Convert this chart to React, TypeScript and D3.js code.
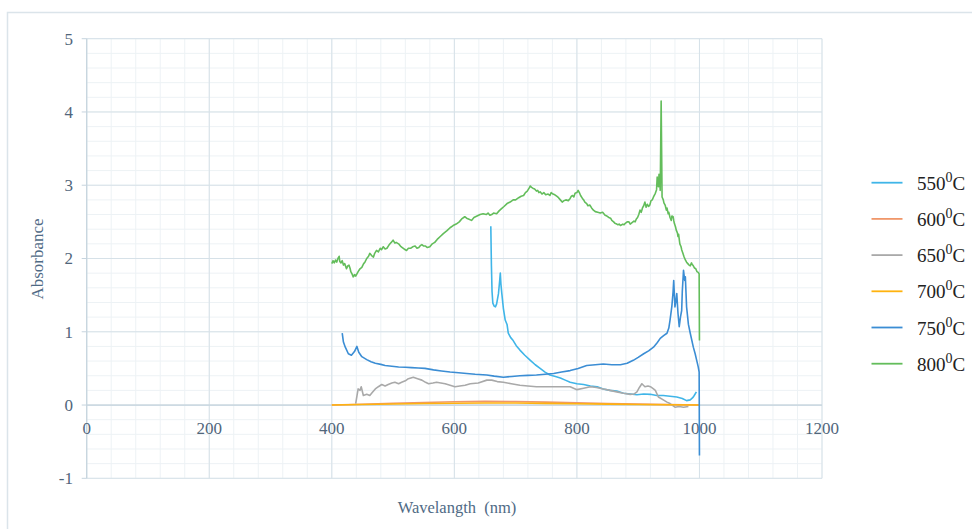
import React from "react";
import * as d3 from "d3";

type Pt = [number, number];

const xTicks = [0, 200, 400, 600, 800, 1000, 1200];
const yTicks = [-1, 0, 1, 2, 3, 4, 5];
const seriesNames = ["550", "600", "650", "700", "750", "800"];
const seriesColors = ["#3fb5e8", "#f0976a", "#a9a9a9", "#ffb30f", "#3b8dd4", "#63bd5b"];

const s550: Pt[] = [[659.5,2.44],[660.5,1.9],[661.5,1.55],[662.8,1.39],[665,1.35],[667,1.34],[669,1.38],[672,1.52],[674,1.7],[675,1.8],[676,1.65],[677.5,1.52],[680,1.32],[683,1.16],[686,1.1],[688,0.98],[692,0.92],[696,0.88],[701,0.81],[707,0.75],[715,0.68],[724,0.61],[732,0.55],[740,0.5],[748,0.45],[756,0.41],[765,0.39],[773,0.37],[781,0.34],[789,0.31],[800,0.29],[811,0.28],[822,0.26],[833,0.25],[843,0.22],[854,0.2],[865,0.19],[876,0.16],[887,0.15],[898,0.14],[909,0.15],[920,0.146],[930,0.13],[941,0.13],[952,0.12],[963,0.11],[972,0.09],[979,0.06],[985,0.07],[989,0.1],[991.5,0.13],[995,0.18]];
const s600: Pt[] = [[400,0],[450,0.01],[500,0.025],[550,0.035],[600,0.045],[650,0.05],[700,0.048],[750,0.04],[800,0.03],[850,0.02],[900,0.012],[950,0.006],[1000,0]];
const s650: Pt[] = [[439,0.02],[441,0.12],[443,0.22],[446,0.2],[448,0.25],[451.5,0.13],[457,0.146],[462,0.13],[466,0.17],[471,0.22],[476,0.25],[481.5,0.28],[487,0.26],[492,0.28],[498,0.3],[503,0.31],[509,0.29],[514,0.31],[520,0.33],[525,0.36],[533,0.38],[540,0.36],[547,0.34],[553,0.31],[558,0.29],[565,0.3],[571,0.31],[578,0.3],[585,0.29],[593,0.27],[601,0.25],[609,0.26],[617.5,0.27],[626,0.29],[639,0.3],[653,0.34],[661,0.34],[670,0.32],[680,0.31],[693,0.29],[707,0.27],[720,0.26],[734,0.25],[748,0.25],[762,0.25],[775,0.25],[789,0.25],[800,0.21],[811,0.23],[822,0.25],[832,0.24],[843,0.22],[854,0.2],[865,0.18],[876,0.16],[887,0.146],[893,0.15],[898,0.18],[902,0.24],[906,0.29],[911,0.25],[916,0.26],[920,0.25],[925,0.22],[928,0.2],[933,0.11],[941,0.07],[947,0.04],[952,0.02],[960,-0.03],[967,-0.02],[974,-0.03],[982,-0.02]];
const s700: Pt[] = [[400,0],[450,0.008],[500,0.015],[550,0.02],[600,0.025],[650,0.028],[700,0.027],[750,0.022],[800,0.017],[850,0.012],[900,0.008],[950,0.004],[1000,0]];
const s750: Pt[] = [[417,0.98],[419,0.86],[422,0.79],[427,0.7],[432,0.68],[435,0.71],[437,0.73],[441,0.8],[444,0.72],[449,0.66],[457,0.62],[464,0.59],[471,0.57],[480,0.555],[487,0.54],[498,0.53],[509,0.52],[520,0.515],[530,0.51],[541,0.505],[552,0.5],[566,0.48],[579,0.465],[593,0.45],[607,0.44],[620,0.43],[634,0.42],[653,0.41],[665,0.395],[680,0.38],[694,0.39],[707,0.4],[720,0.405],[734,0.41],[748,0.42],[762,0.43],[775,0.45],[789,0.47],[802,0.5],[816,0.54],[830,0.55],[843,0.56],[857,0.55],[871,0.55],[882,0.57],[892,0.61],[900,0.65],[909,0.7],[917,0.74],[925,0.79],[931,0.85],[936,0.91],[942,0.95],[947,0.98],[950,1.05],[952,1.16],[955,1.35],[957,1.55],[958,1.7],[960,1.34],[962,1.45],[963,1.52],[965,1.25],[967,1.07],[969,1.2],[971,1.29],[972,1.55],[974,1.84],[976,1.7],[977,1.75],[979,1.34],[982,1.1],[985,0.98],[990,0.79],[993,0.7],[995.5,0.61],[998,0.52],[999.5,0.45],[1000,-0.69]];
const s800: Pt[] = [[400,1.93],[402,1.97],[404,1.94],[406,1.98],[408,1.95],[410,2.0],[412,2.03],[413,1.96],[415,1.94],[417,1.97],[419,1.91],[421,1.93],[424,1.86],[426,1.9],[428,1.91],[430,1.86],[431,1.82],[433,1.79],[435,1.75],[437,1.78],[439,1.76],[441,1.79],[443,1.82],[446,1.86],[449,1.88],[452,1.93],[454,1.95],[457,2.0],[460,2.03],[462,2.07],[465,2.04],[468,2.02],[470,2.07],[473,2.11],[476,2.09],[479,2.14],[481,2.12],[484,2.16],[487,2.13],[490,2.14],[493,2.18],[495,2.2],[498,2.23],[500,2.25],[503,2.21],[505,2.22],[509,2.2],[512,2.17],[515,2.15],[518,2.13],[522,2.11],[525,2.14],[529,2.14],[532,2.16],[536,2.17],[539,2.14],[542,2.15],[545,2.18],[547,2.19],[550,2.17],[553,2.17],[556,2.15],[560,2.16],[564,2.2],[568,2.22],[572,2.26],[577,2.3],[582,2.34],[588,2.38],[593,2.42],[598,2.45],[603,2.47],[608,2.5],[612,2.54],[617,2.57],[620,2.55],[623,2.54],[628,2.52],[632,2.56],[637,2.58],[642,2.6],[647,2.61],[652,2.6],[655,2.62],[658,2.59],[661,2.6],[664,2.62],[669,2.61],[673,2.65],[677,2.68],[681,2.71],[686,2.75],[691,2.77],[696,2.8],[700,2.8],[705,2.83],[709,2.85],[713,2.86],[716,2.9],[719,2.92],[722,2.96],[724,2.99],[726,2.97],[728,2.96],[731,2.95],[734,2.92],[736,2.93],[738,2.9],[740,2.91],[743,2.88],[746,2.9],[749,2.87],[753,2.88],[756,2.86],[758,2.9],[761,2.88],[764,2.87],[767,2.85],[770,2.83],[773,2.8],[776,2.77],[779,2.79],[782,2.8],[786,2.79],[789,2.82],[791,2.85],[793,2.86],[795,2.84],[797,2.89],[800,2.9],[802,2.93],[804,2.9],[806,2.86],[809,2.82],[811,2.8],[813,2.77],[816,2.75],[818,2.72],[821,2.73],[824,2.69],[827,2.66],[830,2.64],[834,2.63],[838,2.62],[842,2.63],[846,2.59],[849,2.58],[852,2.56],[855,2.55],[857,2.52],[860,2.5],[862,2.48],[865,2.47],[867,2.46],[869,2.47],[871,2.45],[875,2.47],[877,2.46],[879,2.48],[882,2.5],[885,2.5],[887,2.47],[890,2.49],[893,2.51],[895,2.5],[897,2.54],[899,2.56],[901,2.6],[903,2.66],[905,2.63],[907,2.69],[909,2.72],[911,2.77],[913,2.7],[915,2.74],[917,2.71],[919,2.73],[921,2.79],[923,2.8],[925,2.84],[928,2.89],[930,2.94],[931,3.11],[932,3.02],[933,2.98],[934,3.15],[935,3.05],[936,2.93],[937.5,4.15],[939,2.84],[941,2.8],[942,2.76],[944,2.73],[946,2.66],[947,2.69],[949,2.61],[950,2.63],[952,2.56],[954,2.52],[955,2.58],[957,2.57],[958,2.52],[959,2.48],[961,2.43],[962,2.39],[964,2.35],[965,2.3],[966,2.33],[968,2.2],[970,2.16],[971,2.12],[973,2.07],[975,2.02],[977,1.98],[979,1.95],[981,1.93],[983,1.91],[985,1.9],[987,1.94],[988,1.92],[990,1.9],[992,1.87],[994,1.86],[996,1.82],[998,1.81],[999.5,1.79],[1000,0.88]];

const seriesData = [s550, s600, s650, s700, s750, s800];

export default function App() {
  const W = 972, H = 529;
  const left = 86.7, right = 822, top = 38.7, bottom = 478.3;
  const x = d3.scaleLinear().domain([0, 1200]).range([left, right]);
  const y = d3.scaleLinear().domain([-1, 5]).range([bottom, top]);
  const line = d3.line<Pt>().x(d => x(d[0])).y(d => y(d[1]));
  const minorX = d3.range(0, 1201, 40);
  const minorY = d3.range(-1, 5.001, 0.2);
  const tickColor = "#51667b";
  const font = "'Liberation Serif', 'Times New Roman', serif";

  return (
    <svg width={W} height={H} style={{ position: "absolute", left: 0, top: 0, background: "#fff" }}>
      <rect x={0} y={0} width={W} height={H} fill="#fff" />
      <rect x={7.5} y={12.5} width={W + 20} height={H + 20} fill="none" stroke="#dbe4ea" strokeWidth={1.5} />
      {minorX.map(v => (
        <line key={"mx" + v} x1={x(v)} x2={x(v)} y1={top} y2={bottom} stroke="#edf2f5" strokeWidth={1} />
      ))}
      {minorY.map(v => (
        <line key={"my" + v.toFixed(1)} x1={left} x2={right} y1={y(v)} y2={y(v)} stroke="#edf2f5" strokeWidth={1} />
      ))}
      {xTicks.map(v => (
        <line key={"gx" + v} x1={x(v)} x2={x(v)} y1={top} y2={bottom} stroke="#d6e1e8" strokeWidth={1} />
      ))}
      {yTicks.map(v => (
        <line key={"gy" + v} x1={left} x2={right} y1={y(v)} y2={y(v)} stroke="#d6e1e8" strokeWidth={1} />
      ))}
      <line x1={left} x2={left} y1={top} y2={bottom} stroke="#c6d4de" strokeWidth={1.2} />
      <line x1={left} x2={right} y1={y(0)} y2={y(0)} stroke="#c6d4de" strokeWidth={1.2} />
      {yTicks.map(v => (
        <line key={"ty" + v} x1={left - 5} x2={left} y1={y(v)} y2={y(v)} stroke="#c6d4de" strokeWidth={1} />
      ))}
      {yTicks.map(v => (
        <text key={"ly" + v} x={73} y={y(v)} dy="0.35em" textAnchor="end" fontFamily={font} fontSize={17} fill={tickColor}>
          {v}
        </text>
      ))}
      {xTicks.map(v => (
        <text key={"lx" + v} x={x(v)} y={434} textAnchor="middle" fontFamily={font} fontSize={17} fill={tickColor}>
          {v}
        </text>
      ))}
      {seriesData.map((d, i) => (
        <path key={"s" + i} d={line(d) || ""} fill="none" stroke={seriesColors[i]} strokeWidth={1.6} strokeLinejoin="round" />
      ))}
      <text transform="translate(43,259) rotate(-90)" textAnchor="middle" fontFamily={font} fontSize={17} fill="#4f6a85">
        Absorbance
      </text>
      <text x={457} y={513} textAnchor="middle" fontFamily={font} fontSize={16.5} fill="#4f6a85" xmlSpace="preserve">
        Wavelangth  (nm)
      </text>
      {seriesNames.map((n, i) => {
        const ry = 182.7 + i * 36.2;
        return (
          <g key={"lg" + n}>
            <line x1={871.5} x2={902.5} y1={ry} y2={ry} stroke={seriesColors[i]} strokeWidth={1.8} />
            <text x={917} y={ry + 7} fontFamily={font} fontSize={19} fill="#222">
              {n}
              <tspan dy={-8} fontSize={14}>0</tspan>
              <tspan dy={8}>C</tspan>
            </text>
          </g>
        );
      })}
    </svg>
  );
}
